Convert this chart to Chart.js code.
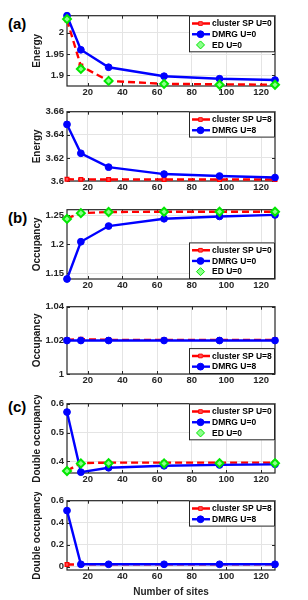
<!DOCTYPE html>
<html><head><meta charset="utf-8">
<script src="https://cdn.jsdelivr.net/npm/chart.js@4.4.0/dist/chart.umd.min.js"></script>
<style>
html,body{margin:0;padding:0;background:#fff;width:308px;height:600px;overflow:hidden;position:relative}
canvas{position:absolute;left:0}
.lab{position:absolute;left:8px;font:bold 15px 'Liberation Sans',Arial,sans-serif;line-height:15px;color:#000}
</style></head><body>
<div class="lab" style="top:16px">(a)</div>
<div class="lab" style="top:210px">(b)</div>
<div class="lab" style="top:399px">(c)</div>
<script>
// x axis: number of sites
const sites=[8,16,32,64,96,128];
const xTicks=[20,40,60,80,100,120];

// (a) energy
const eClusterU0=[2.030,1.922,1.887,1.880,1.879,1.878];
const eDmrgU0=[2.040,1.960,1.919,1.898,1.892,1.889];
const eEdU0=[2.032,1.915,1.887,1.880,1.878,1.878];
const eClusterU8=[3.6015,3.6014,3.6013,3.6013,3.6013,3.6013];
const eDmrgU8=[3.649,3.624,3.612,3.606,3.6043,3.603];
// (b) occupancy
const nClusterU0=[1.245,1.254,1.256,1.2565,1.2565,1.2565];
const nDmrgU0=[1.140,1.2045,1.2317,1.2443,1.2483,1.251];
const nEdU0=[1.244,1.254,1.256,1.2565,1.2565,1.2565];
const nClusterU8=[1.0203,1.0207,1.0203,1.0203,1.0203,1.0203];
const nDmrgU8=[1.0199,1.0199,1.0199,1.0199,1.0199,1.0199];
// (c) double occupancy
const dClusterU0=[0.368,0.394,0.396,0.396,0.396,0.396];
const dDmrgU0=[0.571,0.363,0.378,0.385,0.388,0.390];
const dEdU0=[0.367,0.393,0.394,0.393,0.394,0.394];
const dClusterU8=[0.020,0.021,0.021,0.021,0.021,0.021];
const dDmrgU8=[0.510,0.022,0.022,0.022,0.022,0.022];

// y ticks per panel
const yTicksA1=[1.9,1.95,2], yTicksA2=[3.6,3.62,3.64,3.66];
const yTicksB1=[1.15,1.2,1.25], yTicksB2=[1,1.02,1.04];
const yTicksC1=[0.4,0.5,0.6], yTicksC2=[0,0.2,0.4,0.6];

const FONT="'Liberation Sans',Arial,sans-serif";
const xy=vals=>sites.map((s,i)=>({x:s,y:vals[i]}));

function cluster(u,v){return {label:'cluster SP U='+u,data:xy(v),borderColor:'#ff0000',backgroundColor:'#ff5050',borderWidth:2.4,borderDash:[7,4],pointStyle:'rect',pointRadius:2.6,pointBorderWidth:1.3,pointBorderColor:'#ff0000',order:3,clip:false}}
function dmrg(u,v){return {label:'DMRG U='+u,data:xy(v),borderColor:'#0000ff',backgroundColor:'#0000ff',borderWidth:2.4,pointStyle:'circle',pointRadius:3.4,pointBorderWidth:1,order:2,clip:false}}
function ed(u,v){return {label:'ED U='+u,data:xy(v),showLine:false,borderColor:'#00e800',backgroundColor:'#8cff8c',pointStyle:'rectRot',pointRadius:4,pointBorderWidth:2,order:1,clip:false}}

const panels=[
  {top:15,bot:86,ymin:1.875,ymax:2.04,yt:yTicksA1,title:'Energy',leg:'top',sets:[cluster(0,eClusterU0),dmrg(0,eDmrgU0),ed(0,eEdU0)]},
  {top:111,bot:181,ymin:3.6,ymax:3.66,yt:yTicksA2,title:'Energy',leg:'top',sets:[cluster(8,eClusterU8),dmrg(8,eDmrgU8)]},
  {top:209,bot:279,ymin:1.14,ymax:1.26,yt:yTicksB1,title:'Occupancy',leg:'bottom',sets:[cluster(0,nClusterU0),dmrg(0,nDmrgU0),ed(0,nEdU0)]},
  {top:306,bot:374,ymin:1,ymax:1.04,yt:yTicksB2,title:'Occupancy',leg:'bottom',sets:[cluster(8,nClusterU8),dmrg(8,nDmrgU8)]},
  {top:403,bot:473,ymin:0.36,ymax:0.6,yt:yTicksC1,title:'Double occupancy',leg:'top',sets:[cluster(0,dClusterU0),dmrg(0,dDmrgU0),ed(0,dEdU0)]},
  {top:500,bot:570,ymin:-0.03,ymax:0.6,yt:yTicksC2,title:'Double occupancy',leg:'top',sets:[cluster(8,dClusterU8),dmrg(8,dDmrgU8)],last:true}
];

// box, inward ticks, legend inside axes, y title
const frame={
  id:'frame',
  beforeDatasetsDraw(ch){
    const {ctx,chartArea:a,scales:{x,y}}=ch;
    ctx.save();
    ctx.strokeStyle='#262626';ctx.lineWidth=1.2;
    ctx.strokeRect(a.left,a.top,a.right-a.left,a.bottom-a.top);
    ctx.lineWidth=1;ctx.beginPath();
    xTicks.forEach(v=>{const px=Math.round(x.getPixelForValue(v))+.5;ctx.moveTo(px,a.bottom);ctx.lineTo(px,a.bottom-3);ctx.moveTo(px,a.top);ctx.lineTo(px,a.top+3)});
    y.ticks.forEach(t=>{const py=Math.round(y.getPixelForValue(t.value))+.5;ctx.moveTo(a.left,py);ctx.lineTo(a.left+3,py);ctx.moveTo(a.right,py);ctx.lineTo(a.right-3,py)});
    ctx.stroke();ctx.restore();
  },
  afterDraw(ch,args,o){
    const {ctx,chartArea:a}=ch;
    const sets=ch.data.datasets;
    const w=86,rowH=10.7,h=sets.length*rowH+4.5;
    const lx=a.right-w,ly=o.leg==='top'?a.top:a.bottom-h;
    ctx.save();
    ctx.fillStyle='#fff';ctx.fillRect(lx,ly,w,h);
    ctx.strokeStyle='#262626';ctx.lineWidth=1;ctx.strokeRect(lx+.5,ly+.5,w-1,h-1);
    ctx.font='bold 8.5px '+FONT;ctx.textBaseline='middle';ctx.textAlign='left';
    sets.forEach((d,i)=>{
      const cy=ly+2.5+rowH*(i+.5);
      if(d.showLine!==false){
        ctx.save();ctx.strokeStyle=d.borderColor;ctx.lineWidth=d.borderWidth;ctx.setLineDash(d.borderDash||[]);
        ctx.beginPath();ctx.moveTo(lx+3,cy);ctx.lineTo(lx+21,cy);ctx.stroke();ctx.restore();
      }
      ctx.save();ctx.fillStyle=d.backgroundColor;ctx.strokeStyle=d.pointBorderColor||d.borderColor;
      Chart.helpers.drawPoint(ctx,{pointStyle:d.pointStyle,radius:d.pointRadius,borderWidth:d.pointBorderWidth,rotation:0},lx+11.5,cy);
      ctx.restore();
      ctx.fillStyle='#000';ctx.fillText(d.label,lx+23,cy+.5);
    });
    ctx.translate(37,(a.top+a.bottom)/2);ctx.rotate(-Math.PI/2);
    ctx.font='bold 10px '+FONT;ctx.textAlign='center';ctx.fillStyle='#1a1a1a';
    ctx.fillText(o.title,0,0);
    ctx.restore();
  }
};

panels.forEach(p=>{
  const padTop=8, xh=p.last?30:20;
  const cv=document.createElement('canvas');
  const hgt=padTop+(p.bot-p.top)+xh;
  cv.width=308;cv.height=hgt;cv.style.top=(p.top-padTop)+'px';
  document.body.appendChild(cv);
  new Chart(cv,{
    type:'line',
    data:{datasets:p.sets},
    plugins:[frame],
    options:{
      responsive:false,animation:false,events:[],
      layout:{padding:{top:padTop,left:0,right:33,bottom:0}},
      plugins:{legend:{display:false},tooltip:{enabled:false},frame:{leg:p.leg,title:p.title}},
      scales:{
        x:{type:'linear',min:8,max:128,
          afterBuildTicks:s=>{s.ticks=xTicks.map(v=>({value:v}))},
          afterFit:s=>{s.height=xh},
          grid:{color:'#e4e4e4',drawTicks:false},border:{display:false},
          ticks:{font:{family:FONT,size:9.5,weight:'bold'},color:'#262626',padding:1,maxRotation:0},
          title:{display:!!p.last,text:'Number of sites',font:{family:FONT,size:10,weight:'bold'},color:'#262626',padding:{top:0,bottom:2}}
        },
        y:{type:'linear',min:p.ymin,max:p.ymax,
          afterBuildTicks:s=>{s.ticks=p.yt.map(v=>({value:v}))},
          afterFit:s=>{s.width=67},
          grid:{color:'#e4e4e4',drawTicks:false},border:{display:false},
          ticks:{font:{family:FONT,size:9.5,weight:'bold'},color:'#262626',padding:3,callback:v=>String(v)}
        }
      }
    }
  });
});
</script>
</body></html>
